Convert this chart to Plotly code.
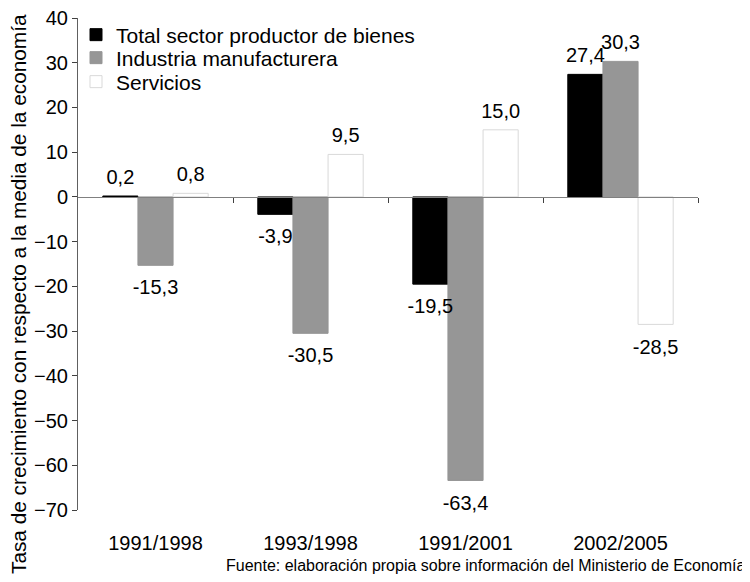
import plotly.graph_objects as go

categories = ["1991/1998", "1993/1998", "1991/2001", "2002/2005"]
total_bienes = [0.2, -3.9, -19.5, 27.4]
industria = [-15.3, -30.5, -63.4, 30.3]
servicios = [0.8, 9.5, 15.0, -28.5]
y_ticks = [40, 30, 20, 10, 0, -10, -20, -30, -40, -50, -60, -70]

FONT = "Liberation Sans, Arial, sans-serif"

# the page body has an 8px margin, so the figure is 8px smaller than the window
OFF = 8
W, H = 750 - OFF, 582 - OFF
ymin, ymax = -70, 40
L, T = 78 - OFF, 18 - OFF
PW = 620
PH = 492
R = W - L - PW
B = H - T - PH

def px_x(xref_px):
    return (xref_px - OFF - L) / PW

def px_y(yref_px):
    return (T + PH - (yref_px - OFF)) / PH

fig = go.Figure()
series = [
    ("Total sector productor de bienes", total_bienes, "#000000", "#000000", "legend", 35),
    ("Industria manufacturera", industria, "#969696", "#969696", "legend2", 58),
    ("Servicios", servicios, "#ffffff", "#d9d9d9", "legend3", 82),
]
legend_layout = {}
for name, vals, col, line, leg, ypix in series:
    fig.add_trace(go.Bar(
        name=name, x=categories, y=vals,
        marker=dict(color=col, line=dict(color=line, width=1)),
        legend=leg, hoverinfo="x+y",
    ))
    legend_layout[leg] = dict(x=px_x(117 - 49 + OFF), y=px_y(ypix),
                              xanchor="left", yanchor="middle",
                              bgcolor="rgba(0,0,0,0)", font=dict(size=21, family=FONT),
                              itemwidth=30)

# value labels drawn above all bars
for name, vals, col, line, leg, ypix in series:
    fig.add_trace(go.Scatter(
        x=categories, y=vals, mode="markers+text",
        text=[f"{v:.1f}".replace(".", ",") for v in vals],
        textposition=["top center" if v >= 0 else "bottom center" for v in vals],
        textfont=dict(size=20, color="#000000", family=FONT),
        marker=dict(size=[10 if v >= 0 else 21 for v in vals], opacity=0),
        showlegend=False, hoverinfo="skip", cliponaxis=False,
    ))

fig.update_layout(
    width=W, height=H,
    margin=dict(l=L, r=R, t=T, b=B, autoexpand=False),
    paper_bgcolor="white", plot_bgcolor="white",
    separators=",.",
    barmode="group", bargap=0.32, bargroupgap=0,
    scattermode="group", scattergap=0.32,
    font=dict(family=FONT, size=20, color="#000000"),
    showlegend=True,
    xaxis=dict(type="category", showline=False, ticks="", showgrid=False,
               zeroline=False, ticklabelstandoff=19, automargin=False,
               tickfont=dict(size=20)),
    xaxis2=dict(overlaying="x", anchor="free", position=(0 - ymin) / (ymax - ymin),
                range=[-0.5, 3.5], showline=True, linecolor="#808080", linewidth=1,
                ticks="outside", ticklen=5, tickcolor="#404040",
                tickvals=[0.5, 1.5, 2.5, 3.5], showticklabels=False,
                showgrid=False, zeroline=False, side="bottom", automargin=False),
    yaxis=dict(range=[ymin, ymax], tickvals=y_ticks, showgrid=False, zeroline=False,
               showline=True, linecolor="#606060", linewidth=1,
               ticks="outside", ticklen=5, tickcolor="#404040",
               ticklabeloverflow="allow",
               tickfont=dict(size=20), automargin=False),
    annotations=[
        dict(text="Fuente: elaboración propia sobre información del Ministerio de Economía",
             xref="paper", yref="paper", x=px_x(748), y=px_y(565),
             xanchor="right", yanchor="middle", showarrow=False,
             font=dict(size=16, family=FONT)),
        dict(text="Tasa de crecimiento con respecto a la media de la economía",
             xref="paper", yref="paper", x=px_x(18), y=px_y(294),
             xanchor="center", yanchor="middle", textangle=-90, showarrow=False,
             font=dict(size=20.8, family=FONT)),
    ],
    **legend_layout,
)
# invisible trace to activate the zero-line axis with boundary ticks
fig.add_trace(go.Scatter(x=[0], y=[0], xaxis="x2", mode="markers",
                         marker=dict(opacity=0), showlegend=False, hoverinfo="skip"))

fig.write_html("out.html")
